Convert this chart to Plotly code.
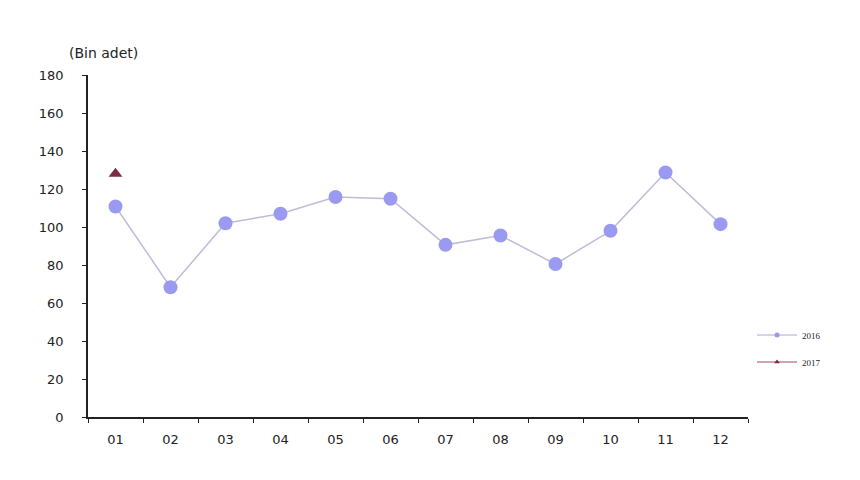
import plotly.graph_objects as go

months = ["01", "02", "03", "04", "05", "06", "07", "08", "09", "10", "11", "12"]
y2016 = [110.8, 68.3, 102.0, 107.0, 115.8, 114.9, 90.6, 95.5, 80.5, 98.0, 128.7, 101.5]
months2017 = ["01"]
y2017 = [128.0]
y_ticks = [0, 20, 40, 60, 80, 100, 120, 140, 160, 180]

c16 = "#9a9af0"
c16_line = "#bdbdd6"
c17 = "#7b2a48"

fig = go.Figure()
fig.add_trace(go.Scatter(x=months, y=y2016, mode="lines+markers", name="2016",
                         line=dict(color=c16_line, width=1.5),
                         marker=dict(color=c16, size=14, symbol="circle"),
                         showlegend=False))
fig.add_trace(go.Scatter(x=months2017, y=y2017, mode="markers", name="2017",
                         marker=dict(color=c17, size=12, symbol="triangle-up"),
                         showlegend=False))
# legend entries
fig.add_trace(go.Scatter(x=[None], y=[None], mode="lines+markers", name="2016",
                         line=dict(color="#a8a8d8", width=1),
                         marker=dict(color=c16, size=5), legend="legend"))
fig.add_trace(go.Scatter(x=[None], y=[None], mode="lines+markers", name="2017",
                         line=dict(color="#9a4a66", width=1),
                         marker=dict(color=c17, size=5, symbol="triangle-up"),
                         legend="legend2"))

# plot area on screen: x 88..748, y 75..417 (page body has 8px margin)
PW, PH = 660, 342
legend_common = dict(font=dict(family="Liberation Serif", size=9, color="#222"),
                     bgcolor="rgba(0,0,0,0)", itemwidth=40,
                     xanchor="left", yanchor="middle")
fig.update_layout(
    width=860, height=480,
    margin=dict(l=80, r=120, t=67, b=71),
    paper_bgcolor="white", plot_bgcolor="white",
    font=dict(family="DejaVu Sans, sans-serif", size=13, color="#222"),
    legend=dict(x=(752 - 748) / PW + 1.0, y=(417 - 335) / PH, **legend_common),
    legend2=dict(x=(752 - 748) / PW + 1.0, y=(417 - 362) / PH, **legend_common),
    xaxis=dict(type="category", categoryorder="array", categoryarray=months,
               range=[-0.5, 11.5], showline=True, linecolor="#222", linewidth=1.5,
               ticks="outside", tickson="boundaries", ticklen=4, tickcolor="#222",
               showgrid=False, zeroline=False, tickfont=dict(size=13),
               ticklabelstandoff=10),
    yaxis=dict(range=[0, 180], tickvals=y_ticks, showline=True, linecolor="#222",
               linewidth=1.5, ticks="outside", ticklen=4, tickcolor="#222",
               showgrid=False, zeroline=False, tickfont=dict(size=13), ticklabelstandoff=16),
    annotations=[dict(text="(Bin adet)", xref="paper", yref="paper",
                      x=(103 - 88) / PW, y=(417 - 53) / PH, xanchor="center", yanchor="middle",
                      showarrow=False, font=dict(size=14, color="#222"))],
)

fig.write_html("out.html")
